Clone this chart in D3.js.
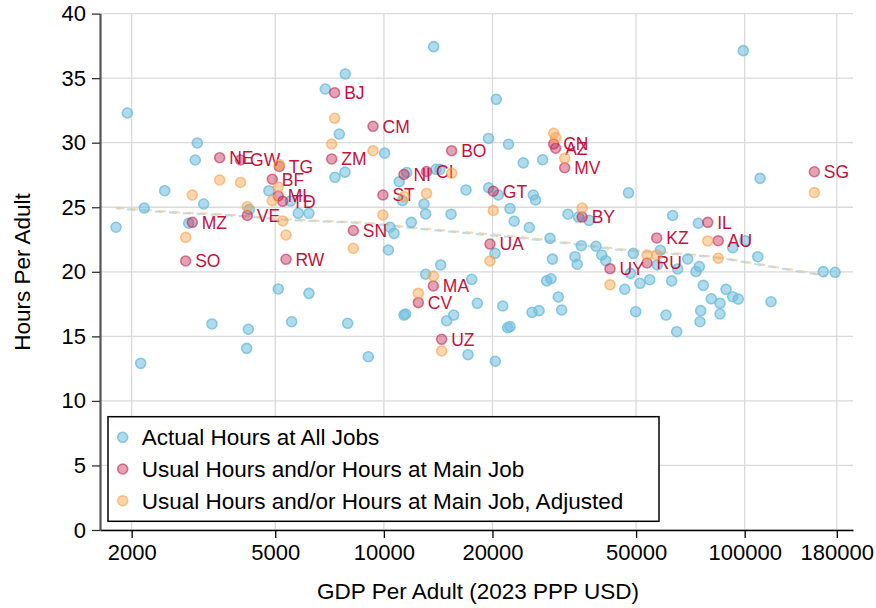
<!DOCTYPE html>
<html>
<head>
<meta charset="utf-8">
<script src="https://cdn.jsdelivr.net/npm/d3@7"></script>
<style>
  body { margin: 0; background: #fff; }
  text { font-family: "Liberation Sans", Arial, Helvetica, sans-serif; }
</style>
</head>
<body>
<svg id="chart" width="876" height="608"></svg>
<script>
// Actual hours at all jobs, by country: GDP per adult (2023 PPP USD) and hours per adult
const actualGdp = [
  1945, 1810, 2167, 2469, 2118, 3040, 3001, 3167, 2878, 3339,
  4210, 4167, 4237, 4803, 5510, 5791, 6199, 5097, 6199, 5553,
  6881, 7817, 7523, 7802, 7320, 7939, 9054, 10050, 10290, 10400,
  10670, 11030, 11570, 11260, 11910, 12920, 13060, 13950, 14310, 15350,
  13740, 16890, 19500, 20490, 22150, 19520, 20760, 22360, 22970, 25290,
  24340, 27550, 25950, 26320, 20320, 14370, 13060, 17520, 11370, 11490,
  14930, 15610, 18160, 21350, 17110, 20360, 22040, 22360, 25740, 26910,
  28260, 29050, 30440, 31100, 29330, 28870, 32380, 34630, 37030, 47650,
  35250, 38720, 33860, 34340, 40160, 41210, 46510, 49890, 49120, 48260,
  51260, 54560, 58380, 57270, 63150, 62770, 65220, 60540, 64800, 69500,
  74380, 74860, 73280, 76780, 80810, 85440, 75520, 85440, 75190, 88780,
  92650, 95990, 92650, 100200, 108700, 118300, 99120, 110300, 165100, 178000
];
const actualHours = [
  32.30, 23.45, 24.94, 26.28, 12.91, 29.98, 28.66, 25.25, 23.76, 15.96,
  15.55, 14.07, 24.83, 26.28, 25.48, 24.53, 24.53, 18.67, 18.33, 16.13,
  34.16, 35.32, 30.67, 27.72, 27.32, 16.01, 13.42, 29.19, 21.69, 23.45,
  22.98, 26.98, 27.69, 25.52, 23.83, 25.25, 24.48, 27.94, 27.94, 24.46,
  37.44, 26.34, 30.33, 33.36, 29.88, 26.51, 25.95, 24.90, 23.92, 23.43,
  28.44, 28.68, 25.95, 25.56, 21.43, 20.53, 19.81, 19.42, 16.65, 16.73,
  16.21, 16.65, 17.56, 17.35, 13.58, 13.07, 15.67, 15.75, 16.86, 16.99,
  19.30, 19.46, 18.05, 17.04, 20.98, 22.59, 24.46, 24.24, 23.99, 26.12,
  22.02, 21.98, 21.17, 20.59, 21.30, 20.86, 18.65, 16.91, 21.43, 19.88,
  19.11, 19.39, 21.67, 20.53, 24.36, 19.30, 20.22, 16.65, 15.36, 20.99,
  23.76, 20.40, 20.02, 18.95, 17.91, 17.56, 16.99, 16.73, 16.13, 18.64,
  18.07, 17.89, 21.87, 22.41, 21.17, 17.68, 37.13, 27.24, 20.01, 19.96
];

// Countries with usual hours / hours at main job
const countryCodes = [
  "BJ", "CM", "NE", "GW", "TG", "ZM", "BF", "ML", "TD", "MZ", "VE",
  "SO", "RW", "SN", "ST", "NI", "CI", "BO", "GT", "UA", "MA", "CV",
  "UZ", "CN", "AZ", "MV", "BY", "UY", "KZ", "RU", "IL", "AU", "SG"
];
const countryGdp = [
  7305, 9330, 3507, 4006, 5130, 7168, 4906, 5097, 5243, 2945, 4183,
  2823, 5355, 8229, 9937, 11370, 13130, 15410, 20100, 19680, 13710, 12460,
  14460, 29550, 29930, 31710, 35450, 42340, 57040, 53620, 79000, 84470, 156000
];
const usualHours = [
  33.87, 31.27, 28.84, 28.66, 28.16, 28.74, 27.17, 25.87, 25.46, 23.83, 24.36,
  20.84, 20.97, 23.20, 25.95, 27.54, 27.77, 29.38, 26.24, 22.15, 18.90, 17.61,
  14.77, 29.90, 29.57, 28.06, 24.24, 20.24, 22.62, 20.68, 23.83, 22.41, 27.75
];
const usualHoursAdjusted = [
  31.89, 29.38, 27.11, 26.92, 28.30, 29.90, 25.51, 26.57, 23.94, 25.95, 25.04,
  22.67, 22.85, 21.82, 24.40, 25.82, 26.07, 27.63, 24.75, 20.84, 19.67, 18.33,
  13.87, 30.73, 30.39, 28.79, 24.94, 19.00, 21.30, 21.30, 22.39, 21.05, 26.13
];

// Fitted trend of hours on GDP per adult
const trendGdp = [1810, 2604, 3582, 5494, 9330, 12040, 27080, 45130, 85430, 110300, 169100];
const trendHoursActual = [24.92, 24.58, 24.40, 24.01, 23.70, 23.37, 22.46, 21.69, 21.05, 20.53, 19.67];
const trendHoursAdjusted = [24.97, 24.63, 24.45, 24.06, 23.75, 23.43, 22.53, 21.76, 21.10, 20.58, 19.72];

const xTicks = [2000, 5000, 10000, 20000, 50000, 100000, 180000];
const yTicks = [0, 5, 10, 15, 20, 25, 30, 35, 40];
const legendLabels = [
  "Actual Hours at All Jobs",
  "Usual Hours and/or Hours at Main Job",
  "Usual Hours and/or Hours at Main Job, Adjusted"
];

const styles = {
  actual:   { fill: "rgba(111,190,220,0.55)", stroke: "rgba(111,190,220,0.8)" },
  usual:    { fill: "rgba(190,30,75,0.41)",   stroke: "rgba(190,30,75,0.55)" },
  adjusted: { fill: "rgba(250,160,70,0.43)",  stroke: "rgba(250,160,70,0.6)" }
};
const labelColor = "#c2133d";
const R = 5;

const svg = d3.select("#chart");
const x = d3.scaleLog().domain([1634, 199620]).range([100, 853]);
const y = d3.scaleLinear().domain([0, 40]).range([530, 13.6]);

// grid
const grid = svg.append("g");
grid.selectAll("line.h").data(yTicks).join("line")
  .attr("x1", 100).attr("x2", 853)
  .attr("y1", d => y(d)).attr("y2", d => y(d))
  .attr("stroke", "#dadada").attr("stroke-width", 1.3);
grid.selectAll("line.v").data(xTicks).join("line")
  .attr("x1", d => x(d)).attr("x2", d => x(d))
  .attr("y1", y(0)).attr("y2", y(40))
  .attr("stroke", "#dadada").attr("stroke-width", 1.3);

// axes
const xAxis = svg.append("g").attr("transform", `translate(0,${y(0)})`)
  .call(d3.axisBottom(x).tickValues(xTicks).tickFormat(d3.format("d"))
    .tickSize(8).tickSizeOuter(0).tickPadding(6));
xAxis.select(".domain").attr("stroke", "#000").attr("stroke-width", 1.5);
xAxis.selectAll(".tick line").attr("stroke", "#000").attr("stroke-width", 1.3);
xAxis.selectAll(".tick text").attr("font-size", 22).attr("fill", "#000")
  .style("font-family", "'Liberation Sans', Arial, sans-serif");

const yAxis = svg.append("g").attr("transform", "translate(100,0)")
  .call(d3.axisLeft(y).tickValues(yTicks).tickSize(8).tickSizeOuter(0).tickPadding(6));
yAxis.select(".domain").attr("stroke", "#555").attr("stroke-width", 2.2);
yAxis.selectAll(".tick line").attr("stroke", "#333").attr("stroke-width", 1.3);
yAxis.selectAll(".tick text").attr("font-size", 22).attr("fill", "#000")
  .style("font-family", "'Liberation Sans', Arial, sans-serif");

// axis titles
svg.append("text").attr("x", 478).attr("y", 599).attr("text-anchor", "middle")
  .attr("font-size", 22.5).text("GDP Per Adult (2023 PPP USD)");
svg.append("text").attr("transform", "translate(30,272) rotate(-90)")
  .attr("text-anchor", "middle").attr("font-size", 22.5).text("Hours Per Adult");

// trend lines (dashed): actual underneath, adjusted on top
const line = d3.line().x(d => x(d[0])).y(d => y(d[1])).curve(d3.curveMonotoneX);
svg.append("path").datum(trendGdp.map((g, i) => [g, trendHoursActual[i]]))
  .attr("d", line).attr("fill", "none")
  .attr("stroke", "rgba(150,210,232,0.7)").attr("stroke-width", 2)
  .attr("stroke-dasharray", "8,6").attr("stroke-dashoffset", 3);
svg.append("path").datum(trendGdp.map((g, i) => [g, trendHoursAdjusted[i]]))
  .attr("d", line).attr("fill", "none")
  .attr("stroke", "rgba(238,205,165,0.8)").attr("stroke-width", 2)
  .attr("stroke-dasharray", "8,6");

function dots(gdp, hours, st) {
  svg.append("g").selectAll("circle").data(gdp.map((g, i) => [g, hours[i]])).join("circle")
    .attr("cx", d => x(d[0])).attr("cy", d => y(d[1])).attr("r", R)
    .attr("fill", st.fill).attr("stroke", st.stroke).attr("stroke-width", 1.6);
}

dots(actualGdp, actualHours, styles.actual);
dots(countryGdp, usualHours, styles.usual);

// country labels
svg.append("g").selectAll("text").data(countryCodes).join("text")
  .attr("x", (d, i) => x(countryGdp[i]) + 9.5)
  .attr("y", (d, i) => y(usualHours[i]))
  .attr("dy", "0.36em")
  .attr("font-size", 17.5).attr("fill", labelColor)
  .text(d => d);

dots(countryGdp, usualHoursAdjusted, styles.adjusted);

// legend
const legend = svg.append("g");
legend.append("rect").attr("x", 108).attr("y", 416.7).attr("width", 551).attr("height", 104.6)
  .attr("fill", "#fff").attr("stroke", "#000").attr("stroke-width", 1.5);
const legendStyles = [styles.actual, styles.usual, styles.adjusted];
legendLabels.forEach((lab, i) => {
  const ly = 437.3 + i * 31.7;
  legend.append("circle").attr("cx", 122.7).attr("cy", ly).attr("r", R)
    .attr("fill", legendStyles[i].fill).attr("stroke", legendStyles[i].stroke).attr("stroke-width", 1.6);
  legend.append("text").attr("x", 141.7).attr("y", ly).attr("dy", "0.36em")
    .attr("font-size", 22.5).attr("fill", "#000").text(lab);
});
</script>
</body>
</html>
